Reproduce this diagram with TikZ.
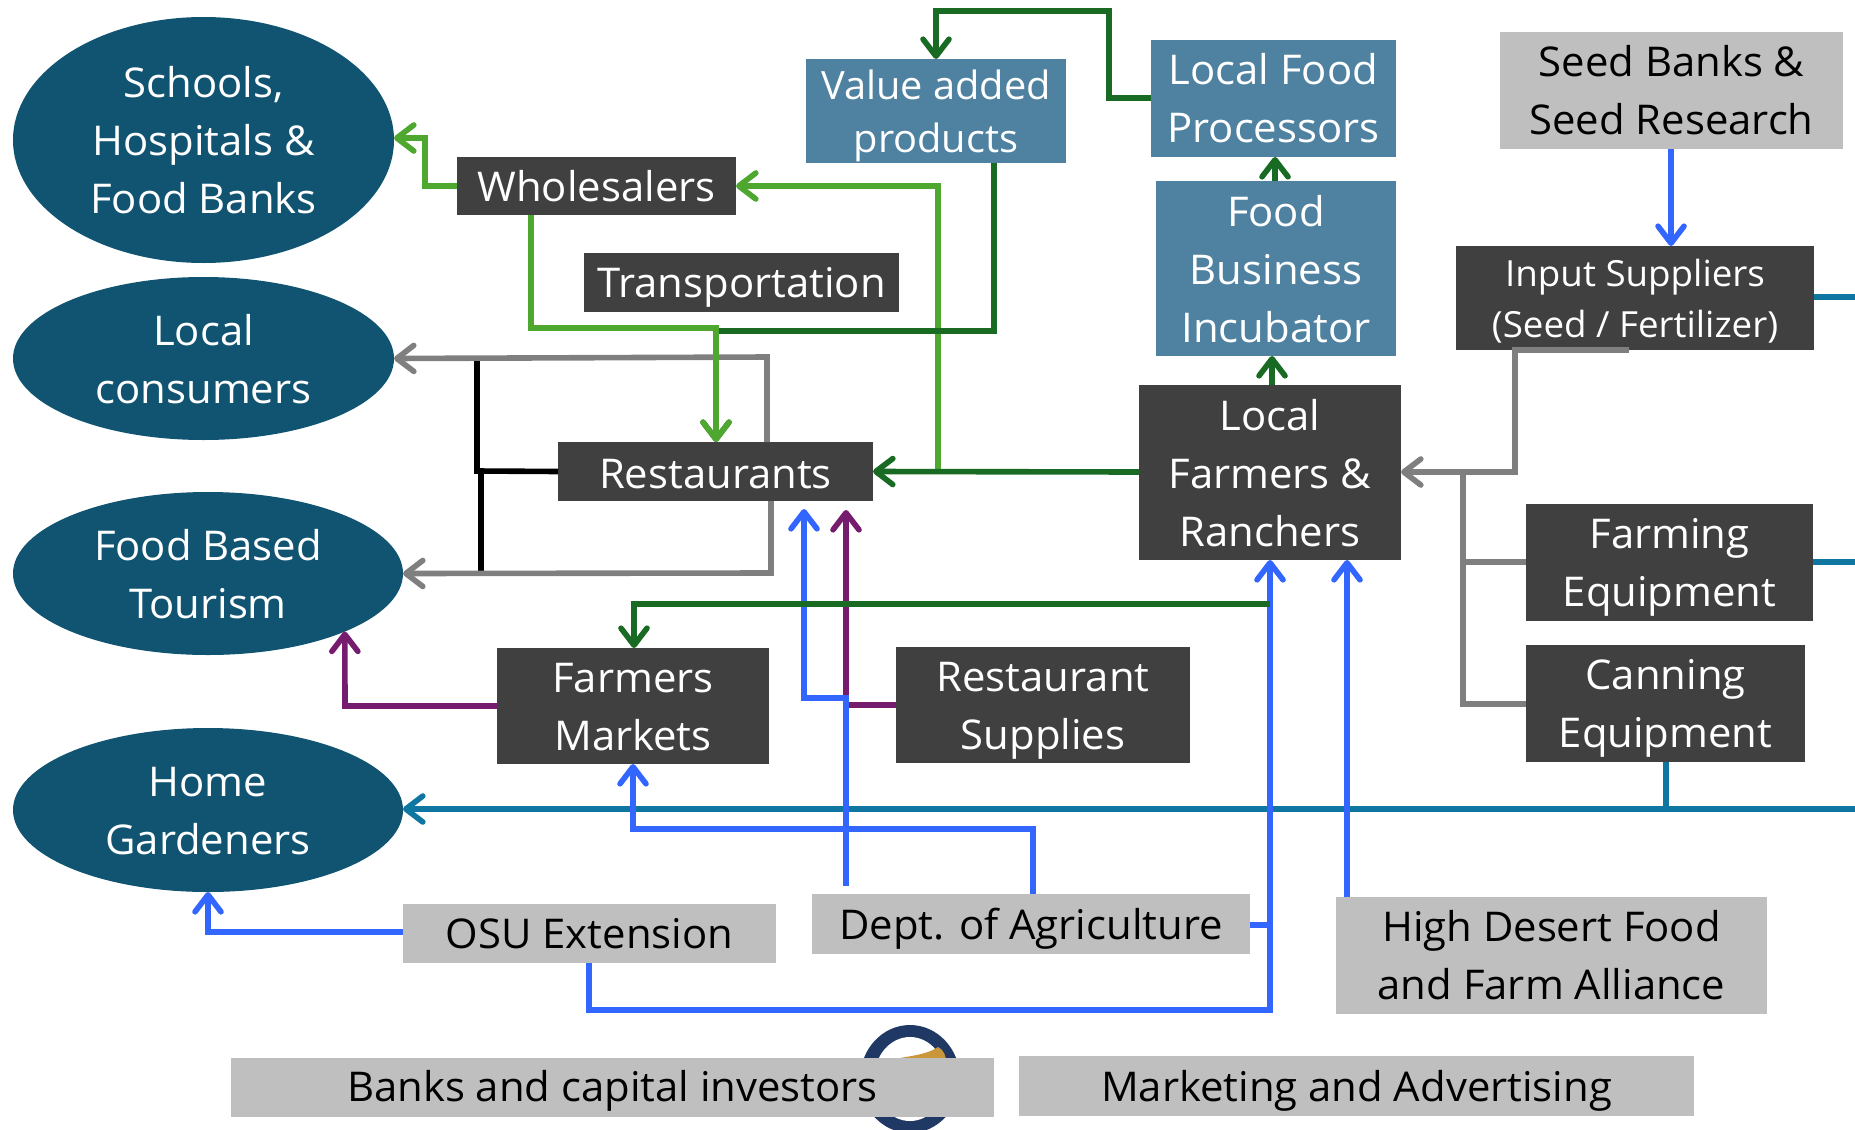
\documentclass[tikz,border=0pt]{standalone}
\usepackage{fontspec}
\setmainfont[FakeStretch=1.02]{Open Sans}
\usetikzlibrary{arrows.meta,shapes.geometric}
\definecolor{ellcol}{HTML}{105472}
\definecolor{darkcol}{HTML}{404040}
\definecolor{bluebox}{HTML}{4F81A0}
\definecolor{graybox}{HTML}{BFBFBF}
\definecolor{lgreen}{HTML}{4EA72E}
\definecolor{dgreen}{HTML}{196B24}
\definecolor{royal}{HTML}{3366FF}
\definecolor{purp}{HTML}{751C6E}
\definecolor{teal2}{HTML}{0F76A1}
\definecolor{linegray}{HTML}{7F7F7F}
\definecolor{ringblue}{HTML}{1F3864}
\definecolor{gold}{HTML}{C9973A}
\newcommand\fs[2]{\fontsize{#1pt}{#2pt}\selectfont}
% style, name, x0, y0, x1, y1, text shift downward (pt), text
\newcommand\diagnode[8]{%
  \pgfmathsetmacro\cxx{(#3+#5)/2}\pgfmathsetmacro\cyy{(#4+#6)/2}%
  \pgfmathsetmacro\www{(#5-#3)*0.5}\pgfmathsetmacro\hhh{(#6-#4)*0.5}%
  \node[#1,minimum width=\www pt,minimum height=\hhh pt,
        label={[#1 label,yshift=-#7pt]center:{#8}}] (#2) at (\cxx,\cyy) {};}
\tikzset{
  x=0.5pt,y=-0.5pt,
  base/.style={inner sep=0pt,outer sep=0pt},
  base label/.style={inner sep=0pt,outer sep=0pt,align=center,font=\fs{20.5}{29}},
  ell/.style={base,ellipse,fill=ellcol},
  ell label/.style={base label,text=white},
  dark/.style={base,rectangle,fill=darkcol},
  dark label/.style={base label,text=white},
  darksmall/.style={dark},
  darksmall label/.style={base label,text=white,font=\fs{18}{25.5}},
  bluerect/.style={base,rectangle,fill=bluebox},
  bluerect label/.style={base label,text=white},
  bluemid/.style={bluerect},
  bluemid label/.style={base label,text=white,font=\fs{19.5}{26.5}},
  grayrect/.style={base,rectangle,fill=graybox},
  grayrect label/.style={base label,text=black},
  conn/.style={line width=2.8pt,line join=miter,-{Straight Barb[length=8.5pt,width=13pt,round,line width=2.8pt]}},
  plain/.style={line width=2.8pt,line join=miter},
}
\begin{document}
\begin{tikzpicture}
\useasboundingbox (0,0) rectangle (1855,1129);
% logo behind the bottom boxes
\begin{scope}
\clip (0,0) rectangle (1855,1129);
\fill[ringblue] (910,1079) ellipse [x radius=25pt,y radius=27pt];
\fill[white] (910,1079) ellipse [x radius=18pt,y radius=21pt];
\fill[gold] (880,1062) .. controls (905,1056) and (925,1056) .. (938,1047) .. controls (944,1050) and (946,1056) .. (946,1062) -- cycle;
\end{scope}
% ellipses
\diagnode{ell}{schools}{13}{17}{394}{263}{0}{Schools,\\Hospitals \&\\Food Banks}
\diagnode{ell}{locals}{13}{277}{394}{440}{0.4}{Local\\consumers}
\diagnode{ell}{tourism}{13}{492}{403}{655}{0.3}{Food Based\\Tourism}
\diagnode{ell}{home}{13}{728}{403}{892}{0.4}{Home\\Gardeners}
% dark boxes
\diagnode{dark}{whole}{457}{157}{736}{215}{0}{Wholesalers}
\diagnode{dark}{trans}{584}{253}{899}{312}{2.4}{Transportation}
\diagnode{dark}{rest}{558}{442}{873}{501}{1.2}{Restaurants}
\diagnode{dark}{farmers}{1139}{385}{1401}{560}{0.3}{Local\\Farmers \&\\Ranchers}
\diagnode{dark}{markets}{497}{648}{769}{764}{0.6}{Farmers\\Markets}
\diagnode{dark}{supplies}{896}{647}{1190}{763}{2.9}{Restaurant\\Supplies}
\diagnode{darksmall}{input}{1456}{246}{1814}{350}{1.8}{Input Suppliers\\(Seed / Fertilizer)}
\diagnode{dark}{farming}{1526}{504}{1813}{621}{2.6}{Farming\\Equipment}
\diagnode{dark}{canning}{1526}{645}{1805}{762}{2.4}{Canning\\Equipment}
% blue boxes
\diagnode{bluemid}{value}{806}{59}{1066}{163}{2.4}{Value added\\products}
\diagnode{bluerect}{proc}{1151}{40}{1396}{157}{0}{Local Food\\Processors}
\diagnode{bluerect}{incub}{1156}{181}{1396}{356}{0.3}{Food\\Business\\Incubator}
% gray boxes
\diagnode{grayrect}{seed}{1500}{32}{1843}{149}{0}{Seed Banks \&\\Seed Research}
\diagnode{grayrect}{osu}{403}{904}{776}{963}{0}{OSU Extension}
\diagnode{grayrect}{dept}{812}{894}{1250}{954}{2.4}{Dept. of Agriculture}
\diagnode{grayrect}{desert}{1336}{897}{1767}{1014}{0}{High Desert Food\\and Farm Alliance}
\diagnode{grayrect}{banks}{231}{1058}{994}{1117}{1.8}{Banks and capital investors}
\diagnode{grayrect}{market}{1019}{1056}{1694}{1116}{2.4}{Marketing and Advertising}
% free line ends at the right margin
\coordinate (rtop) at (1855,297);
\coordinate (rmid) at (1855,562);
\coordinate (rlow) at (1855,809);
% teal
\draw[plain,teal2] (input.east |- rtop) -- (rtop);
\draw[plain,teal2] (farming.east |- rmid) -- (rmid);
\draw[conn,teal2] (rlow) -- (home.east |- rlow);
\draw[plain,teal2] (canning.south -| 1666,0) -- (1666,809);
% gray and black
\draw[plain] (rest.west) -- (477,471) -- (477,357);
\draw[plain] (481,471) -- (481,573);
\draw[conn,linegray] (rest.north -| 767,0) -- (767,357) -- (locals.east);
\draw[conn,linegray] (rest.south -| 771,0) -- (771,573) -- (tourism.east);
\draw[conn,linegray] (input.south -| 1629,0) -- (1515,350) -- (1515,472) -- (farmers.east |- 0,472);
\draw[plain,linegray] (farming.west |- rmid) -- (1463,562) -- (1463,472);
\draw[plain,linegray] (canning.west |- 0,704) -- (1463,704) -- (1463,562);
% purple
\draw[conn,purp] (supplies.west |- 0,705) -- (846,705) -- (846,510);
\draw[conn,purp] (markets.west |- 0,706) -- (345,706) -- (tourism.-23);
% blue
\draw[conn,royal] (dept.east |- 0,925) -- (1270,925) -- (farmers.south -| 1270,0);
\draw[plain,royal] (osu.south -| 589,0) -- (589,1010) -- (1270,1010) -- (1270,925);
\draw[conn,royal] (desert.north -| 1347,0) -- (farmers.south -| 1347,0);
\draw[conn,royal] (seed.south -| 1671,0) -- (input.north -| 1671,0);
\draw[conn,royal] (osu.west |- 0,932) -- (208,932) -- (home.south);
\draw[conn,royal] (dept.north -| 1033,0) -- (1033,829) -- (633,829) -- (markets.south -| 633,0);
\draw[conn,royal] (846,886) -- (846,698) -- (804,698) -- (804,509);
% light green crossing line, then dark green, then the light green arrow on top
\draw[conn,lgreen] (938,471) -- (938,186) -- (whole.east);
\draw[conn,lgreen] (whole.west) -- (425,186) -- (425,138) -- (schools.east |- 0,138);
\draw[conn,dgreen] (proc.west |- 0,98) -- (1109,98) -- (1109,11) -- (936,11) -- (value.north -| 936,0);
\draw[conn,dgreen] (value.south -| 994,0) -- (994,331) -- (716,331) -- (rest.north -| 716,0);
\draw[conn,dgreen] (farmers.west |- 0,472) -- (rest.east);
\draw[conn,dgreen] (farmers.north -| 1272,0) -- (incub.south -| 1272,0);
\draw[conn,dgreen] (incub.north -| 1275,0) -- (proc.south -| 1275,0);
\draw[conn,dgreen] (1270,604) -- (634,604) -- (markets.north -| 634,0);
\draw[conn,lgreen] (whole.south -| 531,0) -- (531,328) -- (716,328) -- (rest.north -| 716,0);
\end{tikzpicture}
\end{document}
